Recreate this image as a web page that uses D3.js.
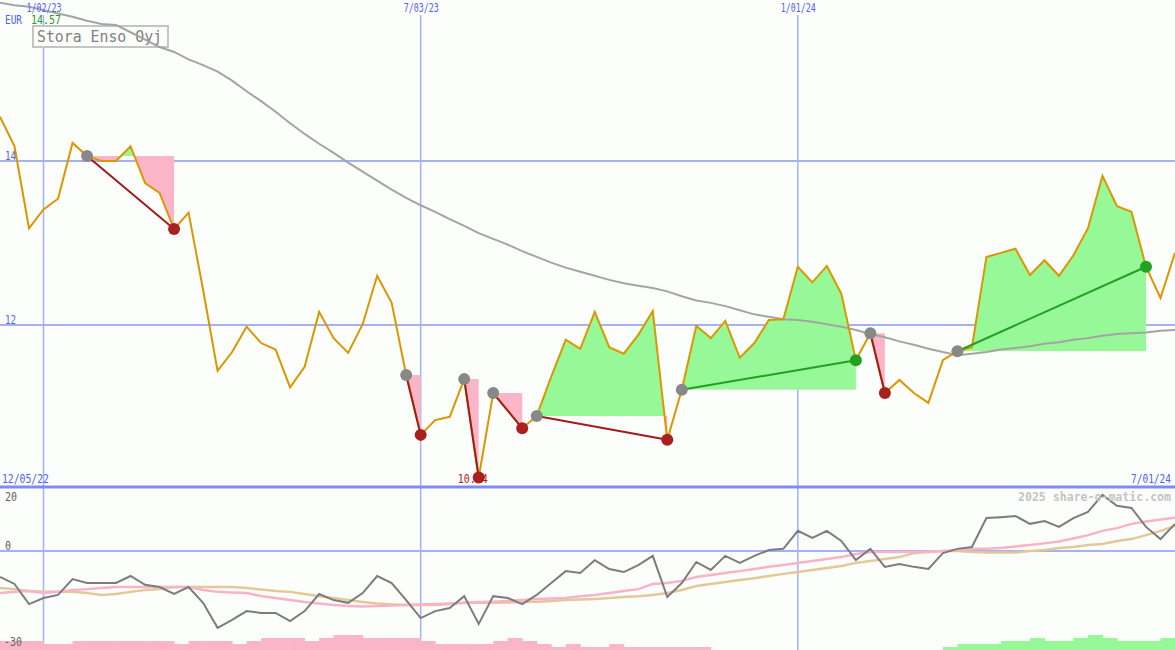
<!DOCTYPE html>
<html><head><meta charset="utf-8">
<script src="https://cdn.jsdelivr.net/npm/d3@7"></script>
<style>body{margin:0;background:#fcfefc;overflow:hidden}</style>
</head><body><svg id="c" width="1175" height="650"></svg>
<script>
// weekly closes (EUR)
const closes = [14.54,14.18,13.18,13.41,13.54,14.22,14.06,14.00,14.00,14.18,
13.73,13.61,13.17,13.37,12.43,11.44,11.67,11.98,11.78,11.70,
11.24,11.49,12.16,11.84,11.66,12.01,12.60,12.27,11.39,10.66,
10.84,10.88,11.34,10.14,11.17,10.96,10.74,10.89,11.37,11.82,
11.71,12.16,11.73,11.65,11.88,12.17,10.60,11.21,11.99,11.84,
12.05,11.60,11.78,12.06,12.07,12.71,12.52,12.72,12.38,11.57,
11.90,11.17,11.33,11.17,11.05,11.57,11.68,11.73,12.83,12.88,
12.93,12.61,12.79,12.60,12.85,13.18,13.82,13.45,13.38,12.71,
12.33,12.88];
// long moving average
const movingAvg = [15.93,15.90,15.88,15.84,15.80,15.76,15.71,15.67,15.66,15.57,
15.48,15.39,15.33,15.24,15.17,15.09,14.98,14.85,14.73,14.60,
14.46,14.33,14.21,14.10,13.98,13.87,13.76,13.65,13.55,13.46,
13.38,13.29,13.21,13.12,13.05,12.98,12.90,12.83,12.76,12.70,
12.65,12.60,12.55,12.51,12.48,12.45,12.41,12.35,12.30,12.27,
12.23,12.18,12.13,12.10,12.07,12.06,12.04,12.01,11.98,11.94,
11.89,11.85,11.80,11.76,11.71,11.67,11.63,11.65,11.67,11.70,
11.72,11.74,11.77,11.79,11.82,11.84,11.87,11.89,11.90,11.91,
11.93,11.94];
// lower panel oscillator lines
const oscLine = [-8.5,-10.8,-17.4,-15.4,-14.4,-9.2,-10.5,-10.5,-10.5,-8.2,
-11.1,-11.8,-14.1,-11.8,-17.0,-25.2,-22.6,-19.7,-20.3,-20.3,
-23.0,-19.7,-14.1,-16.1,-17.0,-13.8,-8.2,-10.5,-16.1,-22.0,
-19.7,-18.7,-14.8,-23.9,-14.8,-15.4,-17.4,-14.4,-10.5,-6.6,
-7.2,-3.0,-5.9,-6.9,-4.6,-1.6,-15.1,-10.5,-3.6,-6.2,
-1.6,-3.9,-1.6,0.3,0.7,6.6,4.3,6.6,3.3,-3.0,
0.7,-5.2,-4.3,-5.2,-5.9,-0.7,0.7,1.3,10.8,11.1,
11.5,8.9,9.8,7.9,10.8,12.8,18.4,14.8,14.1,7.9,
3.9,8.9];
const oscFast = [-13.8,-13.4,-13.1,-13.8,-13.4,-12.8,-12.5,-12.1,-11.8,-11.8,
-11.8,-11.8,-11.8,-11.8,-12.8,-13.4,-13.6,-13.8,-14.8,-15.4,
-16.1,-16.7,-17.2,-17.7,-18.0,-18.2,-18.0,-17.9,-17.7,-17.5,
-17.4,-17.2,-17.0,-16.7,-16.6,-16.4,-16.1,-15.7,-15.6,-15.4,
-14.8,-14.4,-13.8,-13.1,-12.5,-10.8,-10.5,-9.8,-8.5,-7.9,
-7.2,-6.6,-5.9,-5.2,-4.6,-3.9,-3.3,-2.6,-2.0,-1.0,
-0.3,-0.3,-0.3,-0.3,-0.3,0.0,0.3,0.7,0.7,1.0,
1.5,2.0,2.5,3.1,4.1,5.2,6.6,7.5,8.9,9.7,
10.3,10.9];
const oscSlow = [-12.1,-12.5,-13.1,-13.4,-13.4,-13.4,-13.8,-14.4,-14.1,-13.4,
-12.8,-12.5,-11.8,-11.8,-11.8,-11.8,-11.8,-12.1,-12.6,-13.1,
-13.4,-14.1,-14.8,-15.4,-16.1,-16.7,-17.2,-17.5,-17.7,-17.7,
-17.7,-17.4,-17.0,-17.0,-17.0,-16.9,-16.7,-16.6,-16.4,-16.1,
-15.9,-15.7,-15.4,-15.1,-14.8,-14.4,-13.8,-12.8,-11.5,-10.8,
-10.2,-9.5,-8.9,-8.2,-7.5,-6.9,-6.2,-5.6,-4.9,-3.9,
-3.3,-2.6,-2.0,-0.7,-0.3,0.0,0.0,-0.3,-0.5,-0.5,
-0.5,0.0,0.3,1.0,1.3,2.0,2.3,3.3,3.9,5.2,
6.6,8.2];
// trend strength histogram (negative = pink, positive = green)
const trendBars = [-3,-3,-3,-2,-2,-3,-3,-3,-3,-3,
-3,-3,-2,-3,-3,-3,-2,-3,-4,-4,
-4,-3,-4,-5,-5,-4,-4,-4,-4,-3,
-2,-2,-2,-2,-3,-4,-3,-2,-1,-2,
-1,-1,-2,-1,-1,-1,-1,-1,-1,0,
0,0,0,0,0,0,0,0,0,0,
0,0,0,0,0,1,2,2,2,3,
3,4,3,3,4,5,4,3,3,3,
4];
// trades (week indices)
const tradeEntry = [6,28,32,34,37,47,60,66];
const tradeExit  = [12,29,33,36,46,59,61,79];
// ticks
const dateTickIdx = [3,29,55];
const dateTickLabels = ["1/02/23","7/03/23","1/01/24"];
const rangeLabels = ["12/05/22","7/01/24"];
const priceTicks = [12,14];
const oscTicks = [20,0,-30];
const title = "Stora Enso Oyj";
const currency = "EUR", lastQuote = "14.57";
const lowLabel = "10.14", lowIdx = 33;
const credit = "2025 share-o-matic.com";

const W = 1175, H = 650;
const svg = d3.select("#c");
const x = d3.scaleLinear().domain([0, closes.length-1]).range([0, W]);
const yP = d3.scaleLinear().domain([12,14]).range([325,161]);
const yO = d3.scaleLinear().domain([0,20]).range([551,490]);
const yB = d3.scaleLinear().domain([0,5]).range([0,15]);
const MONO = "'DejaVu Sans Mono', 'Liberation Mono', monospace";
const GRID = "#a4b2f2", BLUE = "#5060f0";

svg.append("rect").attr("width",W).attr("height",H).attr("fill","#fcfefc");

// vertical gridlines
svg.append("g").selectAll("line").data(dateTickIdx).join("line")
  .attr("x1",d=>x(d)).attr("x2",d=>x(d)).attr("y1",15).attr("y2",H)
  .attr("stroke",GRID).attr("stroke-width",1.5);
// horizontal gridlines
svg.append("g").selectAll("line").data(priceTicks).join("line")
  .attr("x1",0).attr("x2",W).attr("y1",d=>yP(d)).attr("y2",d=>yP(d))
  .attr("stroke",GRID).attr("stroke-width",2);
svg.append("line").attr("x1",0).attr("x2",W).attr("y1",yO(0)).attr("y2",yO(0))
  .attr("stroke",GRID).attr("stroke-width",2);
svg.append("line").attr("x1",0).attr("x2",W).attr("y1",487).attr("y2",487)
  .attr("stroke","#7e8cf0").attr("stroke-width",3);

// title box
svg.append("rect").attr("x",33).attr("y",26).attr("width",135).attr("height",21)
  .attr("fill","#fcfefc").attr("stroke","#c4c4c4").attr("stroke-width",2);
svg.append("text").attr("x",37).attr("y",42).text(title)
  .attr("font-family",MONO).attr("font-size",16).attr("fill","#808080")
  .attr("textLength",125).attr("lengthAdjust","spacingAndGlyphs");

// trade fills
const defs = svg.append("defs");
tradeEntry.forEach((e,t)=>{
  const ex = tradeExit[t];
  const yE = yP(closes[e]);
  const idx = d3.range(e, ex+1);
  const area = d3.area().x(i=>x(i)).y0(yE).y1(i=>yP(closes[i]));
  defs.append("clipPath").attr("id","up"+t).append("rect")
    .attr("x",0).attr("y",0).attr("width",W).attr("height",yE);
  defs.append("clipPath").attr("id","dn"+t).append("rect")
    .attr("x",0).attr("y",yE).attr("width",W).attr("height",487-yE);
  svg.append("path").attr("d",area(idx)).attr("fill","#96f896").attr("clip-path","url(#up"+t+")");
  svg.append("path").attr("d",area(idx)).attr("fill","#fbb5c9").attr("clip-path","url(#dn"+t+")");
});

// moving average
svg.append("path").datum(movingAvg)
  .attr("d", d3.line().x((d,i)=>x(i)).y(d=>yP(d)))
  .attr("fill","none").attr("stroke","#a4a4a4").attr("stroke-width",2);

// low label
svg.append("text").attr("x",x(lowIdx)-21).attr("y",483)
  .text(lowLabel).attr("font-family",MONO).attr("font-size",13).attr("fill","#b02020")
  .attr("textLength",30).attr("lengthAdjust","spacingAndGlyphs");

// price line
svg.append("path").datum(closes)
  .attr("d", d3.line().x((d,i)=>x(i)).y(d=>yP(d)))
  .attr("fill","none").attr("stroke","#dc9600").attr("stroke-width",2);

// trade lines + dots
tradeEntry.forEach((e,t)=>{
  const ex = tradeExit[t];
  const win = closes[ex] > closes[e];
  svg.append("line").attr("x1",x(e)).attr("y1",yP(closes[e]))
    .attr("x2",x(ex)).attr("y2",yP(closes[ex]))
    .attr("stroke", win ? "#22a022" : "#a01c1c").attr("stroke-width",2);
});
tradeEntry.forEach((e,t)=>{
  const ex = tradeExit[t];
  const win = closes[ex] > closes[e];
  svg.append("circle").attr("cx",x(e)).attr("cy",yP(closes[e])).attr("r",6).attr("fill","#888888");
  svg.append("circle").attr("cx",x(ex)).attr("cy",yP(closes[ex])).attr("r",6)
    .attr("fill", win ? "#22a022" : "#a82020");
});

// lower panel bars
svg.append("g").selectAll("rect").data(trendBars).join("rect")
  .attr("x",(d,i)=>x(i)).attr("width",(d,i)=>x(i+1)-x(i)+0.5)
  .attr("y",d=>H-yB(Math.abs(d))).attr("height",d=>yB(Math.abs(d)))
  .attr("fill",d=>d<0?"#fbb5c9":"#96f896");

const oscLineGen = d3.line().x((d,i)=>x(i)).y(d=>yO(d));
svg.append("path").datum(oscSlow).attr("d",oscLineGen).attr("fill","none")
  .attr("stroke","#e4c898").attr("stroke-width",2.5);
svg.append("path").datum(oscFast).attr("d",oscLineGen).attr("fill","none")
  .attr("stroke","#f9b2c8").attr("stroke-width",2.5);
svg.append("path").datum(oscLine).attr("d",oscLineGen).attr("fill","none")
  .attr("stroke","#7c7c7c").attr("stroke-width",2);

// text labels (left-anchored with explicit widths)
const lbl = (tx,xx,yy,col,len,fs)=>{
  return svg.append("text").attr("x",xx).attr("y",yy).text(tx)
    .attr("font-family",MONO).attr("font-size",fs||13).attr("fill",col)
    .attr("textLength",len).attr("lengthAdjust","spacingAndGlyphs");
};
dateTickIdx.forEach((d,k)=>lbl(dateTickLabels[k], x(d)-17, 12, BLUE, 35));
lbl(rangeLabels[0], 2, 483, BLUE, 47);
lbl(rangeLabels[1], 1131, 483, BLUE, 40);
lbl(currency, 5, 24, BLUE, 17);
lbl(lastQuote, 31, 24, "#20a020", 30);
priceTicks.forEach(p=>lbl(String(p), 5, yP(p)-1, BLUE, 11));
oscTicks.forEach(v=>{
  const yy = v===20 ? 501 : v===0 ? 550 : 646;
  const txt = String(v);
  lbl(txt, v<0?4:5, yy, "#606060", txt.length*6);
});
lbl(credit, 1018, 501, "#c4c4c4", 153, 13).attr("font-weight","bold");
</script>
</body></html>
